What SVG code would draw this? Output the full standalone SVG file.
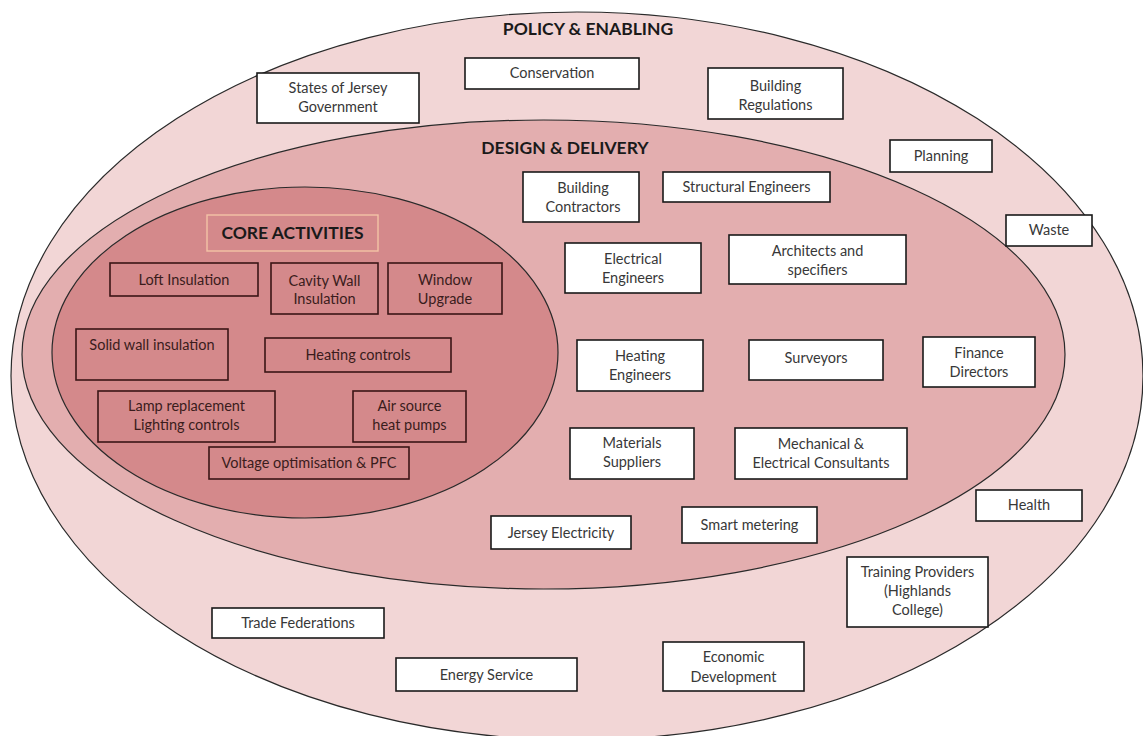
<svg xmlns="http://www.w3.org/2000/svg" width="1143" height="736" viewBox="0 0 1143 736">
<style>
  .ring { stroke: #2a2a2a; stroke-width: 1.2; }
  .wb rect { fill: #ffffff; stroke: #1a1a1a; stroke-width: 1.6; }
  .wb text { font-family: Lato, "Liberation Sans", sans-serif; font-size: 14.5px; fill: #383838; text-anchor: middle; }
  .cb rect { fill: none; stroke: #3a1616; stroke-width: 1.6; }
  .cb text { font-family: Lato, "Liberation Sans", sans-serif; font-size: 14.5px; fill: #3a1c1c; text-anchor: middle; }
  .title { font-family: Lato, "Liberation Sans", sans-serif; font-weight: bold; font-size: 17.5px; fill: #1a1a1a; text-anchor: middle; }
</style>
<rect x="0" y="0" width="1143" height="736" fill="#ffffff"/>

<g id="rings">
  <ellipse id="policy-ring" class="ring" cx="577" cy="376" rx="566" ry="364" fill="#f2d6d6"/>
  <ellipse id="design-ring" class="ring" cx="543.5" cy="354.5" rx="521.5" ry="234.5" fill="#e3aeaf"/>
  <ellipse id="core-ring" class="ring" cx="305" cy="352.5" rx="253" ry="165.5" fill="#d4898b"/>
</g>

<g id="connectors"></g>

<text id="policy-title" class="title" x="588" y="35">POLICY &amp; ENABLING</text>
<text id="design-title" class="title" x="565" y="154">DESIGN &amp; DELIVERY</text>

<!-- Policy & Enabling -->
<g id="states-of-jersey" class="wb"><rect x="257" y="73" width="162" height="50"/><text x="338" y="93">States of Jersey</text><text x="338" y="112">Government</text></g>
<g id="conservation" class="wb"><rect x="465" y="58" width="174" height="31"/><text x="552" y="78">Conservation</text></g>
<g id="building-regulations" class="wb"><rect x="708" y="68" width="135" height="51"/><text x="775.5" y="91">Building</text><text x="775.5" y="110">Regulations</text></g>
<g id="planning" class="wb"><rect x="890" y="140" width="102" height="32"/><text x="941" y="161">Planning</text></g>
<g id="waste" class="wb"><rect x="1006" y="215" width="86" height="31"/><text x="1049" y="235">Waste</text></g>
<g id="health" class="wb"><rect x="976" y="490" width="106" height="31"/><text x="1029" y="510">Health</text></g>
<g id="training-providers" class="wb"><rect x="847" y="557" width="141" height="70"/><text x="917.5" y="577">Training Providers</text><text x="917.5" y="596">(Highlands</text><text x="917.5" y="615">College)</text></g>
<g id="trade-federations" class="wb"><rect x="212" y="608" width="172" height="30"/><text x="298" y="628">Trade Federations</text></g>
<g id="energy-service" class="wb"><rect x="396" y="658" width="181" height="33"/><text x="486.5" y="680">Energy Service</text></g>
<g id="economic-development" class="wb"><rect x="663" y="642" width="141" height="49"/><text x="733.5" y="662">Economic</text><text x="733.5" y="682">Development</text></g>

<!-- Design & Delivery -->
<g id="building-contractors" class="wb"><rect x="523" y="172" width="116" height="50"/><text x="583" y="193">Building</text><text x="583" y="212">Contractors</text></g>
<g id="structural-engineers" class="wb"><rect x="663" y="172" width="167" height="30"/><text x="746.5" y="192">Structural Engineers</text></g>
<g id="electrical-engineers" class="wb"><rect x="565" y="243" width="136" height="50"/><text x="633" y="264">Electrical</text><text x="633" y="283">Engineers</text></g>
<g id="architects" class="wb"><rect x="729" y="235" width="177" height="49"/><text x="817.5" y="256">Architects and</text><text x="817.5" y="275">specifiers</text></g>
<g id="heating-engineers" class="wb"><rect x="577" y="340" width="126" height="51"/><text x="640" y="361">Heating</text><text x="640" y="380">Engineers</text></g>
<g id="surveyors" class="wb"><rect x="749" y="340" width="134" height="40"/><text x="816" y="363">Surveyors</text></g>
<g id="finance-directors" class="wb"><rect x="923" y="337" width="112" height="50"/><text x="979" y="358">Finance</text><text x="979" y="377">Directors</text></g>
<g id="materials-suppliers" class="wb"><rect x="570" y="428" width="124" height="51"/><text x="632" y="448">Materials</text><text x="632" y="467">Suppliers</text></g>
<g id="mech-elec-consultants" class="wb"><rect x="735" y="428" width="172" height="51"/><text x="821" y="449">Mechanical &amp;</text><text x="821" y="468">Electrical Consultants</text></g>
<g id="jersey-electricity" class="wb"><rect x="491" y="516" width="140" height="33"/><text x="561" y="538">Jersey Electricity</text></g>
<g id="smart-metering" class="wb"><rect x="682" y="507" width="135" height="36"/><text x="749.5" y="530">Smart metering</text></g>

<!-- Core Activities -->
<g id="core-activities-title"><rect x="207" y="215" width="171" height="36" fill="none" stroke="#f4c3a6" stroke-width="1.4"/><text class="title" x="292.5" y="239">CORE ACTIVITIES</text></g>
<g id="loft-insulation" class="cb"><rect x="110" y="263" width="148" height="33"/><text x="184" y="285">Loft Insulation</text></g>
<g id="cavity-wall" class="cb"><rect x="271" y="263" width="107" height="51"/><text x="324.5" y="286">Cavity Wall</text><text x="324.5" y="304">Insulation</text></g>
<g id="window-upgrade" class="cb"><rect x="388" y="263" width="114" height="51"/><text x="445" y="285">Window</text><text x="445" y="304">Upgrade</text></g>
<g id="solid-wall" class="cb"><rect x="76" y="329" width="152" height="51"/><text x="152" y="350">Solid wall insulation</text></g>
<g id="heating-controls" class="cb"><rect x="265" y="338" width="186" height="34"/><text x="358" y="360">Heating controls</text></g>
<g id="lamp-replacement" class="cb"><rect x="98" y="391" width="177" height="51"/><text x="186.5" y="411">Lamp replacement</text><text x="186.5" y="430">Lighting controls</text></g>
<g id="air-source" class="cb"><rect x="353" y="391" width="113" height="51"/><text x="409.5" y="411">Air source</text><text x="409.5" y="430">heat pumps</text></g>
<g id="voltage-optimisation" class="cb"><rect x="209" y="447" width="200" height="32"/><text x="309" y="468">Voltage optimisation &amp; PFC</text></g>
</svg>
